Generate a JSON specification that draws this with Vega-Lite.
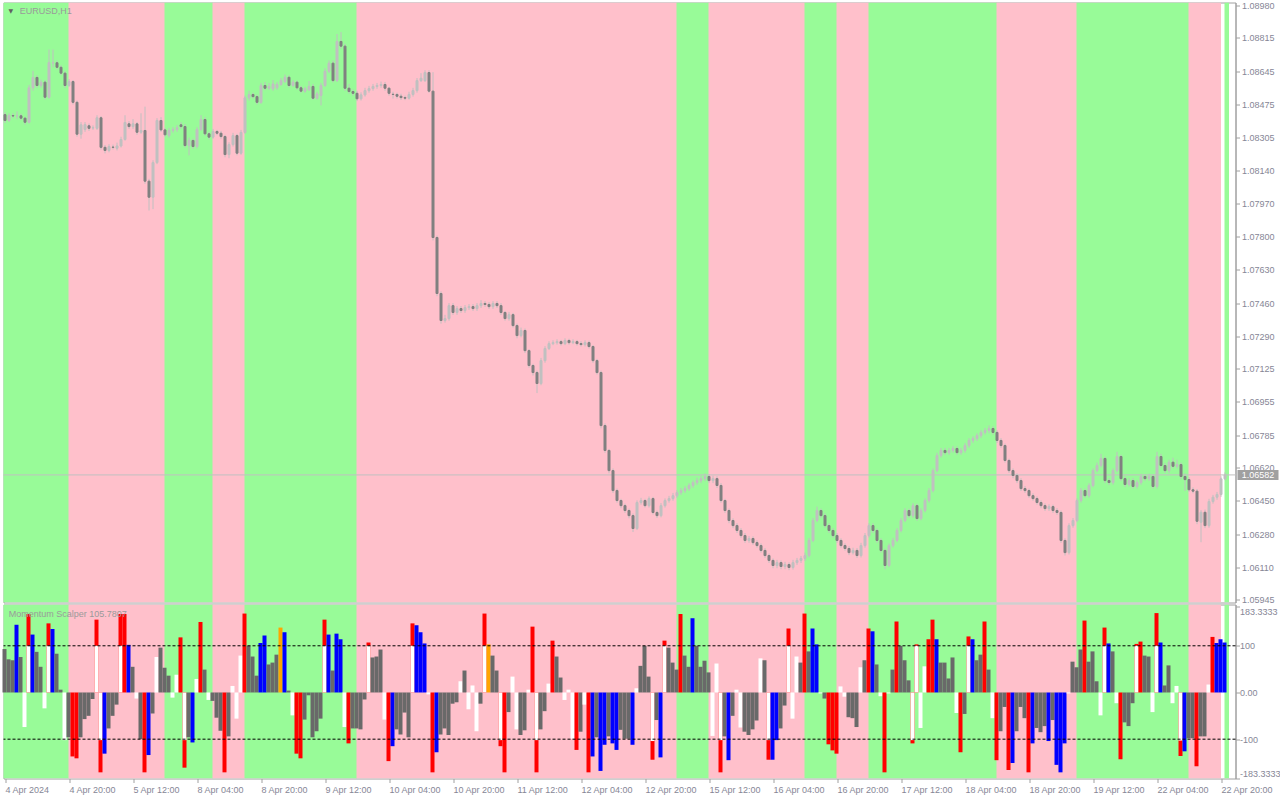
{
"$schema":"https://vega.github.io/schema/vega-lite/v6.json",
"background":"#ffffff",
"padding":{"top":0.5,"left":1.5,"right":0,"bottom":0},
"bounds":"flush",
"spacing":2,
"config":{"view":{"stroke":"#a0a0a0","fill":"#ffffff"},"axis":{"labelFont":"Liberation Sans","labelFontSize":9,"labelColor":"#868696","tickColor":"#a0a0a0","domainColor":"#a0a0a0","grid":false,"labelOverlap":false,"labelFlush":false}},
"datasets":{
"bands":[{"a":-1,"b":16,"t":"up"},{"a":16,"b":40,"t":"down"},{"a":40,"b":52,"t":"up"},{"a":52,"b":60,"t":"down"},{"a":60,"b":88,"t":"up"},{"a":88,"b":168,"t":"down"},{"a":168,"b":176,"t":"up"},{"a":176,"b":200,"t":"down"},{"a":200,"b":208,"t":"up"},{"a":208,"b":216,"t":"down"},{"a":216,"b":248,"t":"up"},{"a":248,"b":268,"t":"down"},{"a":268,"b":296,"t":"up"},{"a":296,"b":304,"t":"down"},{"a":305,"b":306,"t":"up"}],
"candles":[
{"i":0,"o":1.08423,"h":1.08435,"l":1.0838,"c":1.08393},
{"i":1,"o":1.08393,"h":1.0843,"l":1.08385,"c":1.08418},
{"i":2,"o":1.08418,"h":1.0843,"l":1.08405,"c":1.08416},
{"i":3,"o":1.08416,"h":1.0844,"l":1.084,"c":1.08417},
{"i":4,"o":1.08417,"h":1.08428,"l":1.08395,"c":1.08405},
{"i":5,"o":1.08405,"h":1.08412,"l":1.08372,"c":1.08384},
{"i":6,"o":1.08384,"h":1.08575,"l":1.08378,"c":1.0856},
{"i":7,"o":1.0856,"h":1.08647,"l":1.08545,"c":1.08613},
{"i":8,"o":1.08613,"h":1.08625,"l":1.0856,"c":1.08572},
{"i":9,"o":1.08572,"h":1.08602,"l":1.0856,"c":1.08589},
{"i":10,"o":1.08589,"h":1.086,"l":1.085,"c":1.08512},
{"i":11,"o":1.08512,"h":1.08756,"l":1.08505,"c":1.08689},
{"i":12,"o":1.08687,"h":1.08756,"l":1.08665,"c":1.08688},
{"i":13,"o":1.08688,"h":1.087,"l":1.08655,"c":1.08665},
{"i":14,"o":1.08665,"h":1.08675,"l":1.08625,"c":1.08635},
{"i":15,"o":1.08635,"h":1.08645,"l":1.0856,"c":1.08572},
{"i":16,"o":1.08572,"h":1.08605,"l":1.08565,"c":1.08592},
{"i":17,"o":1.08592,"h":1.086,"l":1.08475,"c":1.08486},
{"i":18,"o":1.08486,"h":1.08495,"l":1.0831,"c":1.08323},
{"i":19,"o":1.08323,"h":1.08385,"l":1.083,"c":1.08371},
{"i":20,"o":1.08347,"h":1.08385,"l":1.08335,"c":1.08372},
{"i":21,"o":1.08366,"h":1.08378,"l":1.0834,"c":1.08353},
{"i":22,"o":1.08355,"h":1.08368,"l":1.08345,"c":1.08356},
{"i":23,"o":1.08353,"h":1.0842,"l":1.08345,"c":1.08407},
{"i":24,"o":1.08407,"h":1.08415,"l":1.08245,"c":1.08256},
{"i":25,"o":1.08256,"h":1.08268,"l":1.08225,"c":1.0824},
{"i":26,"o":1.0824,"h":1.08272,"l":1.0823,"c":1.0826},
{"i":27,"o":1.08257,"h":1.0827,"l":1.08245,"c":1.08256},
{"i":28,"o":1.08251,"h":1.0828,"l":1.0824,"c":1.08263},
{"i":29,"o":1.08263,"h":1.0831,"l":1.08255,"c":1.08296},
{"i":30,"o":1.08296,"h":1.0842,"l":1.0829,"c":1.08383},
{"i":31,"o":1.08376,"h":1.0839,"l":1.0835,"c":1.08362},
{"i":32,"o":1.08362,"h":1.084,"l":1.0835,"c":1.08376},
{"i":33,"o":1.08376,"h":1.08385,"l":1.0832,"c":1.08333},
{"i":34,"o":1.08333,"h":1.0843,"l":1.08325,"c":1.08342},
{"i":35,"o":1.08342,"h":1.08464,"l":1.0807,"c":1.08083},
{"i":36,"o":1.08083,"h":1.08095,"l":1.07933,"c":1.08001},
{"i":37,"o":1.08001,"h":1.0819,"l":1.0794,"c":1.08178},
{"i":38,"o":1.08178,"h":1.08405,"l":1.0817,"c":1.08393},
{"i":39,"o":1.08393,"h":1.0841,"l":1.08335,"c":1.08345},
{"i":40,"o":1.08345,"h":1.08355,"l":1.0831,"c":1.0832},
{"i":41,"o":1.08316,"h":1.08355,"l":1.08305,"c":1.08342},
{"i":42,"o":1.08342,"h":1.0836,"l":1.0833,"c":1.08347},
{"i":43,"o":1.08347,"h":1.0837,"l":1.08335,"c":1.08356},
{"i":44,"o":1.08371,"h":1.08385,"l":1.0835,"c":1.08362},
{"i":45,"o":1.08362,"h":1.08375,"l":1.08255,"c":1.08265},
{"i":46,"o":1.08265,"h":1.08305,"l":1.08215,"c":1.08291},
{"i":47,"o":1.08291,"h":1.083,"l":1.08248,"c":1.0826},
{"i":48,"o":1.0826,"h":1.0836,"l":1.0825,"c":1.08347},
{"i":49,"o":1.08347,"h":1.0842,"l":1.0834,"c":1.08398},
{"i":50,"o":1.08398,"h":1.0841,"l":1.08315,"c":1.08325},
{"i":51,"o":1.08325,"h":1.08335,"l":1.08295,"c":1.08308},
{"i":52,"o":1.08308,"h":1.0835,"l":1.083,"c":1.08337},
{"i":53,"o":1.08337,"h":1.08345,"l":1.08318,"c":1.08328},
{"i":54,"o":1.08328,"h":1.0834,"l":1.083,"c":1.08311},
{"i":55,"o":1.08311,"h":1.0832,"l":1.08205,"c":1.08219},
{"i":56,"o":1.08219,"h":1.08282,"l":1.082,"c":1.0827},
{"i":57,"o":1.0827,"h":1.0833,"l":1.0826,"c":1.08316},
{"i":58,"o":1.08316,"h":1.08325,"l":1.08215,"c":1.08226},
{"i":59,"o":1.08226,"h":1.08345,"l":1.08218,"c":1.08332},
{"i":60,"o":1.08332,"h":1.0852,"l":1.08325,"c":1.08509},
{"i":61,"o":1.08509,"h":1.08545,"l":1.08495,"c":1.08526},
{"i":62,"o":1.08526,"h":1.08535,"l":1.08505,"c":1.08515},
{"i":63,"o":1.08515,"h":1.08525,"l":1.08475,"c":1.08486},
{"i":64,"o":1.08486,"h":1.08585,"l":1.08478,"c":1.08572},
{"i":65,"o":1.08572,"h":1.0859,"l":1.08548,"c":1.08558},
{"i":66,"o":1.08558,"h":1.08585,"l":1.0855,"c":1.08567},
{"i":67,"o":1.08555,"h":1.086,"l":1.08545,"c":1.0858},
{"i":68,"o":1.0856,"h":1.0859,"l":1.0855,"c":1.08577},
{"i":69,"o":1.08577,"h":1.0861,"l":1.0857,"c":1.08597},
{"i":70,"o":1.08592,"h":1.08628,"l":1.08585,"c":1.08614},
{"i":71,"o":1.08614,"h":1.08625,"l":1.08562,"c":1.08572},
{"i":72,"o":1.08572,"h":1.086,"l":1.08565,"c":1.08589},
{"i":73,"o":1.08589,"h":1.08598,"l":1.0855,"c":1.0856},
{"i":74,"o":1.0856,"h":1.0857,"l":1.08535,"c":1.08543},
{"i":75,"o":1.08543,"h":1.08565,"l":1.08535,"c":1.08555},
{"i":76,"o":1.0855,"h":1.08595,"l":1.08545,"c":1.08567},
{"i":77,"o":1.08567,"h":1.0858,"l":1.08498,"c":1.08507},
{"i":78,"o":1.08507,"h":1.0854,"l":1.085,"c":1.08529},
{"i":79,"o":1.08521,"h":1.08585,"l":1.0847,"c":1.08572},
{"i":80,"o":1.08572,"h":1.0866,"l":1.08565,"c":1.08645},
{"i":81,"o":1.08645,"h":1.087,"l":1.08635,"c":1.08686},
{"i":82,"o":1.08686,"h":1.087,"l":1.08588,"c":1.08597},
{"i":83,"o":1.08597,"h":1.08835,"l":1.0859,"c":1.08797},
{"i":84,"o":1.08797,"h":1.08845,"l":1.0876,"c":1.08773},
{"i":85,"o":1.08773,"h":1.08785,"l":1.08545,"c":1.08558},
{"i":86,"o":1.08558,"h":1.0858,"l":1.0853,"c":1.08541},
{"i":87,"o":1.08541,"h":1.08552,"l":1.0852,"c":1.08532},
{"i":88,"o":1.08532,"h":1.08545,"l":1.08492,"c":1.08504},
{"i":89,"o":1.08504,"h":1.08537,"l":1.08495,"c":1.08524},
{"i":90,"o":1.08524,"h":1.0856,"l":1.08515,"c":1.08546},
{"i":91,"o":1.08546,"h":1.0857,"l":1.08535,"c":1.08556},
{"i":92,"o":1.08556,"h":1.0858,"l":1.08545,"c":1.08567},
{"i":93,"o":1.08567,"h":1.08585,"l":1.08555,"c":1.08572},
{"i":94,"o":1.08572,"h":1.08592,"l":1.0856,"c":1.08577},
{"i":95,"o":1.08577,"h":1.0859,"l":1.08545,"c":1.08558},
{"i":96,"o":1.08558,"h":1.08565,"l":1.0852,"c":1.08532},
{"i":97,"o":1.08527,"h":1.0854,"l":1.08505,"c":1.08526},
{"i":98,"o":1.08526,"h":1.08535,"l":1.08505,"c":1.08517},
{"i":99,"o":1.08517,"h":1.0853,"l":1.08498,"c":1.0851},
{"i":100,"o":1.0851,"h":1.0852,"l":1.08497,"c":1.08507},
{"i":101,"o":1.08507,"h":1.0854,"l":1.085,"c":1.08526},
{"i":102,"o":1.08526,"h":1.0856,"l":1.08515,"c":1.08546},
{"i":103,"o":1.08546,"h":1.0861,"l":1.08535,"c":1.08597},
{"i":104,"o":1.08597,"h":1.08635,"l":1.0859,"c":1.08609},
{"i":105,"o":1.08597,"h":1.0865,"l":1.0859,"c":1.08638},
{"i":106,"o":1.08638,"h":1.0865,"l":1.08535,"c":1.08543},
{"i":107,"o":1.08543,"h":1.0864,"l":1.0778,"c":1.07795},
{"i":108,"o":1.07795,"h":1.07805,"l":1.07495,"c":1.07509},
{"i":109,"o":1.07509,"h":1.0752,"l":1.07355,"c":1.07371},
{"i":110,"o":1.07371,"h":1.074,"l":1.0736,"c":1.07381},
{"i":111,"o":1.07381,"h":1.0746,"l":1.0737,"c":1.07447},
{"i":112,"o":1.07447,"h":1.0746,"l":1.074,"c":1.07412},
{"i":113,"o":1.07412,"h":1.07445,"l":1.074,"c":1.07432},
{"i":114,"o":1.07432,"h":1.07445,"l":1.0741,"c":1.07422},
{"i":115,"o":1.07422,"h":1.0745,"l":1.0741,"c":1.07437},
{"i":116,"o":1.07437,"h":1.07455,"l":1.07425,"c":1.07442},
{"i":117,"o":1.07442,"h":1.07455,"l":1.0742,"c":1.07432},
{"i":118,"o":1.07432,"h":1.0746,"l":1.0742,"c":1.07447},
{"i":119,"o":1.07447,"h":1.07475,"l":1.07435,"c":1.07458},
{"i":120,"o":1.07458,"h":1.0747,"l":1.0744,"c":1.07453},
{"i":121,"o":1.07453,"h":1.07465,"l":1.0743,"c":1.07442},
{"i":122,"o":1.07442,"h":1.0747,"l":1.0743,"c":1.07458},
{"i":123,"o":1.07458,"h":1.0747,"l":1.07435,"c":1.07447},
{"i":124,"o":1.07447,"h":1.0746,"l":1.074,"c":1.07412},
{"i":125,"o":1.07412,"h":1.0742,"l":1.0737,"c":1.07381},
{"i":126,"o":1.07381,"h":1.07415,"l":1.0737,"c":1.07401},
{"i":127,"o":1.07401,"h":1.0741,"l":1.07335,"c":1.07345},
{"i":128,"o":1.07345,"h":1.07355,"l":1.0728,"c":1.07294},
{"i":129,"o":1.07294,"h":1.07335,"l":1.07285,"c":1.0732},
{"i":130,"o":1.0732,"h":1.0733,"l":1.07205,"c":1.07217},
{"i":131,"o":1.07217,"h":1.07225,"l":1.0713,"c":1.07141},
{"i":132,"o":1.07141,"h":1.0715,"l":1.0709,"c":1.07105},
{"i":133,"o":1.07105,"h":1.07115,"l":1.07,"c":1.07049},
{"i":134,"o":1.07049,"h":1.0718,"l":1.0704,"c":1.07166},
{"i":135,"o":1.07166,"h":1.0724,"l":1.07155,"c":1.07228},
{"i":136,"o":1.07228,"h":1.07265,"l":1.0722,"c":1.07253},
{"i":137,"o":1.07253,"h":1.0727,"l":1.07245,"c":1.07258},
{"i":138,"o":1.07258,"h":1.07275,"l":1.07248,"c":1.07263},
{"i":139,"o":1.07263,"h":1.07272,"l":1.07243,"c":1.07253},
{"i":140,"o":1.07253,"h":1.0728,"l":1.07245,"c":1.07269},
{"i":141,"o":1.07269,"h":1.07278,"l":1.07248,"c":1.07258},
{"i":142,"o":1.07258,"h":1.07275,"l":1.0725,"c":1.07263},
{"i":143,"o":1.07263,"h":1.07272,"l":1.07243,"c":1.07253},
{"i":144,"o":1.07253,"h":1.07265,"l":1.07238,"c":1.07248},
{"i":145,"o":1.07248,"h":1.0727,"l":1.07238,"c":1.07258},
{"i":146,"o":1.07258,"h":1.07268,"l":1.07228,"c":1.07238},
{"i":147,"o":1.07238,"h":1.07245,"l":1.07155,"c":1.07166},
{"i":148,"o":1.07166,"h":1.07175,"l":1.07095,"c":1.07105},
{"i":149,"o":1.07105,"h":1.07115,"l":1.0682,"c":1.06834},
{"i":150,"o":1.06834,"h":1.06845,"l":1.06695,"c":1.06707},
{"i":151,"o":1.06707,"h":1.06715,"l":1.0659,"c":1.06604},
{"i":152,"o":1.06604,"h":1.06615,"l":1.0649,"c":1.06502},
{"i":153,"o":1.06502,"h":1.06512,"l":1.0644,"c":1.06451},
{"i":154,"o":1.06451,"h":1.0646,"l":1.06412,"c":1.06425},
{"i":155,"o":1.06425,"h":1.06435,"l":1.06388,"c":1.064},
{"i":156,"o":1.064,"h":1.0641,"l":1.0636,"c":1.06374},
{"i":157,"o":1.06374,"h":1.06385,"l":1.0629,"c":1.06308},
{"i":158,"o":1.06308,"h":1.06452,"l":1.063,"c":1.06441},
{"i":159,"o":1.06441,"h":1.06465,"l":1.0643,"c":1.06451},
{"i":160,"o":1.06451,"h":1.0646,"l":1.06415,"c":1.06425},
{"i":161,"o":1.06425,"h":1.06472,"l":1.06415,"c":1.06461},
{"i":162,"o":1.06461,"h":1.0647,"l":1.0638,"c":1.0639},
{"i":163,"o":1.0639,"h":1.064,"l":1.06362,"c":1.06374},
{"i":164,"o":1.06374,"h":1.06438,"l":1.06365,"c":1.06425},
{"i":165,"o":1.06425,"h":1.06462,"l":1.06415,"c":1.06451},
{"i":166,"o":1.06451,"h":1.06475,"l":1.0644,"c":1.06461},
{"i":167,"o":1.06461,"h":1.0649,"l":1.0645,"c":1.06476},
{"i":168,"o":1.06476,"h":1.06505,"l":1.06465,"c":1.06492},
{"i":169,"o":1.06492,"h":1.06515,"l":1.0648,"c":1.06502},
{"i":170,"o":1.06502,"h":1.06525,"l":1.0649,"c":1.06512},
{"i":171,"o":1.06512,"h":1.0654,"l":1.065,"c":1.06528},
{"i":172,"o":1.06528,"h":1.06555,"l":1.06515,"c":1.06543},
{"i":173,"o":1.06543,"h":1.06568,"l":1.0653,"c":1.06553},
{"i":174,"o":1.06553,"h":1.06578,"l":1.0654,"c":1.06563},
{"i":175,"o":1.06563,"h":1.0659,"l":1.0655,"c":1.06574},
{"i":176,"o":1.06574,"h":1.06585,"l":1.0654,"c":1.06553},
{"i":177,"o":1.06553,"h":1.06578,"l":1.0654,"c":1.06563},
{"i":178,"o":1.06563,"h":1.06575,"l":1.06515,"c":1.06528},
{"i":179,"o":1.06528,"h":1.0654,"l":1.0644,"c":1.06451},
{"i":180,"o":1.06451,"h":1.0646,"l":1.06388,"c":1.064},
{"i":181,"o":1.064,"h":1.0641,"l":1.06335,"c":1.06349},
{"i":182,"o":1.06349,"h":1.0636,"l":1.0631,"c":1.06323},
{"i":183,"o":1.06323,"h":1.06335,"l":1.06285,"c":1.06298},
{"i":184,"o":1.06298,"h":1.0631,"l":1.0626,"c":1.06272},
{"i":185,"o":1.06272,"h":1.06285,"l":1.06235,"c":1.06247},
{"i":186,"o":1.06247,"h":1.0627,"l":1.06235,"c":1.06257},
{"i":187,"o":1.06257,"h":1.06268,"l":1.06225,"c":1.06236},
{"i":188,"o":1.06236,"h":1.06248,"l":1.0621,"c":1.06221},
{"i":189,"o":1.06221,"h":1.06232,"l":1.06185,"c":1.06196},
{"i":190,"o":1.06196,"h":1.06208,"l":1.06158,"c":1.0617},
{"i":191,"o":1.0617,"h":1.0618,"l":1.06132,"c":1.06145},
{"i":192,"o":1.06145,"h":1.06155,"l":1.06105,"c":1.06119},
{"i":193,"o":1.06119,"h":1.06148,"l":1.06105,"c":1.06134},
{"i":194,"o":1.06134,"h":1.06145,"l":1.061,"c":1.06114},
{"i":195,"o":1.06114,"h":1.06138,"l":1.061,"c":1.06124},
{"i":196,"o":1.06124,"h":1.06135,"l":1.06095,"c":1.06109},
{"i":197,"o":1.06109,"h":1.06148,"l":1.06098,"c":1.06134},
{"i":198,"o":1.06134,"h":1.06158,"l":1.06122,"c":1.06145},
{"i":199,"o":1.06145,"h":1.06168,"l":1.06132,"c":1.06155},
{"i":200,"o":1.06155,"h":1.06185,"l":1.06142,"c":1.0617},
{"i":201,"o":1.0617,"h":1.0626,"l":1.0616,"c":1.06247},
{"i":202,"o":1.06247,"h":1.06362,"l":1.06238,"c":1.06349},
{"i":203,"o":1.06349,"h":1.0642,"l":1.0634,"c":1.064},
{"i":204,"o":1.064,"h":1.0641,"l":1.06362,"c":1.06374},
{"i":205,"o":1.06374,"h":1.06385,"l":1.06312,"c":1.06323},
{"i":206,"o":1.06323,"h":1.06335,"l":1.06285,"c":1.06298},
{"i":207,"o":1.06298,"h":1.0631,"l":1.0626,"c":1.06272},
{"i":208,"o":1.06272,"h":1.06285,"l":1.06235,"c":1.06247},
{"i":209,"o":1.06247,"h":1.06258,"l":1.0621,"c":1.06221},
{"i":210,"o":1.06221,"h":1.06232,"l":1.06195,"c":1.06206},
{"i":211,"o":1.06206,"h":1.06218,"l":1.06172,"c":1.06185},
{"i":212,"o":1.06185,"h":1.0621,"l":1.06175,"c":1.06196},
{"i":213,"o":1.06196,"h":1.06208,"l":1.06158,"c":1.0617},
{"i":214,"o":1.0617,"h":1.06235,"l":1.0616,"c":1.06221},
{"i":215,"o":1.06221,"h":1.06285,"l":1.0621,"c":1.06272},
{"i":216,"o":1.06272,"h":1.06335,"l":1.06262,"c":1.06323},
{"i":217,"o":1.06323,"h":1.06335,"l":1.06285,"c":1.06298},
{"i":218,"o":1.06298,"h":1.06308,"l":1.06235,"c":1.06247},
{"i":219,"o":1.06247,"h":1.06258,"l":1.06185,"c":1.06196},
{"i":220,"o":1.06196,"h":1.06205,"l":1.061,"c":1.06119},
{"i":221,"o":1.06119,"h":1.06232,"l":1.0611,"c":1.06221},
{"i":222,"o":1.06221,"h":1.0626,"l":1.0621,"c":1.06247},
{"i":223,"o":1.06247,"h":1.0631,"l":1.06238,"c":1.06298},
{"i":224,"o":1.06298,"h":1.06362,"l":1.06288,"c":1.06349},
{"i":225,"o":1.06349,"h":1.06412,"l":1.0634,"c":1.064},
{"i":226,"o":1.064,"h":1.0641,"l":1.06362,"c":1.06374},
{"i":227,"o":1.06374,"h":1.06438,"l":1.06362,"c":1.06425},
{"i":228,"o":1.06425,"h":1.06435,"l":1.06348,"c":1.06359},
{"i":229,"o":1.06359,"h":1.06412,"l":1.0635,"c":1.064},
{"i":230,"o":1.064,"h":1.06462,"l":1.0639,"c":1.06451},
{"i":231,"o":1.06451,"h":1.06515,"l":1.0644,"c":1.06502},
{"i":232,"o":1.06502,"h":1.06615,"l":1.06492,"c":1.06604},
{"i":233,"o":1.06604,"h":1.06695,"l":1.06595,"c":1.06681},
{"i":234,"o":1.06681,"h":1.0672,"l":1.0667,"c":1.06707},
{"i":235,"o":1.06707,"h":1.0672,"l":1.06685,"c":1.06696},
{"i":236,"o":1.06696,"h":1.0672,"l":1.06685,"c":1.06707},
{"i":237,"o":1.06707,"h":1.0673,"l":1.06695,"c":1.06717},
{"i":238,"o":1.06717,"h":1.06728,"l":1.06685,"c":1.06696},
{"i":239,"o":1.06696,"h":1.0672,"l":1.06685,"c":1.06707},
{"i":240,"o":1.06707,"h":1.06745,"l":1.06695,"c":1.06732},
{"i":241,"o":1.06732,"h":1.0677,"l":1.0672,"c":1.06758},
{"i":242,"o":1.06758,"h":1.0678,"l":1.06745,"c":1.06768},
{"i":243,"o":1.06768,"h":1.06795,"l":1.06755,"c":1.06783},
{"i":244,"o":1.06783,"h":1.06812,"l":1.0677,"c":1.06799},
{"i":245,"o":1.06799,"h":1.06822,"l":1.06788,"c":1.06809},
{"i":246,"o":1.06809,"h":1.06835,"l":1.06795,"c":1.06819},
{"i":247,"o":1.06819,"h":1.0683,"l":1.06788,"c":1.06799},
{"i":248,"o":1.06799,"h":1.0681,"l":1.06745,"c":1.06758},
{"i":249,"o":1.06758,"h":1.0677,"l":1.0672,"c":1.06732},
{"i":250,"o":1.06732,"h":1.06742,"l":1.06645,"c":1.06656},
{"i":251,"o":1.06656,"h":1.06665,"l":1.06592,"c":1.06604},
{"i":252,"o":1.06604,"h":1.06615,"l":1.06565,"c":1.06579},
{"i":253,"o":1.06579,"h":1.0659,"l":1.0654,"c":1.06553},
{"i":254,"o":1.06553,"h":1.06565,"l":1.065,"c":1.06512},
{"i":255,"o":1.06512,"h":1.06525,"l":1.0649,"c":1.06502},
{"i":256,"o":1.06502,"h":1.06512,"l":1.06465,"c":1.06476},
{"i":257,"o":1.06476,"h":1.06488,"l":1.0645,"c":1.06461},
{"i":258,"o":1.06461,"h":1.06472,"l":1.0643,"c":1.06441},
{"i":259,"o":1.06441,"h":1.06452,"l":1.06412,"c":1.06425},
{"i":260,"o":1.06425,"h":1.06436,"l":1.06398,"c":1.0641},
{"i":261,"o":1.0641,"h":1.06432,"l":1.06398,"c":1.0642},
{"i":262,"o":1.0642,"h":1.0643,"l":1.06388,"c":1.064},
{"i":263,"o":1.064,"h":1.06412,"l":1.06378,"c":1.0639},
{"i":264,"o":1.0639,"h":1.064,"l":1.06235,"c":1.06247},
{"i":265,"o":1.06247,"h":1.06258,"l":1.0617,"c":1.06185},
{"i":266,"o":1.06185,"h":1.06335,"l":1.06175,"c":1.06323},
{"i":267,"o":1.06323,"h":1.06362,"l":1.06312,"c":1.06349},
{"i":268,"o":1.06349,"h":1.06462,"l":1.0634,"c":1.06451},
{"i":269,"o":1.06451,"h":1.06515,"l":1.0644,"c":1.06502},
{"i":270,"o":1.06502,"h":1.06512,"l":1.06465,"c":1.06476},
{"i":271,"o":1.06476,"h":1.0654,"l":1.06465,"c":1.06528},
{"i":272,"o":1.06528,"h":1.06615,"l":1.06518,"c":1.06604},
{"i":273,"o":1.06604,"h":1.06645,"l":1.06595,"c":1.0663},
{"i":274,"o":1.0663,"h":1.0669,"l":1.0662,"c":1.06666},
{"i":275,"o":1.06666,"h":1.06675,"l":1.0654,"c":1.06553},
{"i":276,"o":1.06553,"h":1.06565,"l":1.0653,"c":1.06543},
{"i":277,"o":1.06543,"h":1.06615,"l":1.06532,"c":1.06604},
{"i":278,"o":1.06604,"h":1.067,"l":1.06595,"c":1.06676},
{"i":279,"o":1.06676,"h":1.06685,"l":1.0655,"c":1.06563},
{"i":280,"o":1.06563,"h":1.06575,"l":1.0652,"c":1.06533},
{"i":281,"o":1.06533,"h":1.06565,"l":1.06522,"c":1.06553},
{"i":282,"o":1.06553,"h":1.06565,"l":1.06512,"c":1.06523},
{"i":283,"o":1.06523,"h":1.06555,"l":1.06512,"c":1.06543},
{"i":284,"o":1.06543,"h":1.06588,"l":1.06532,"c":1.06574},
{"i":285,"o":1.06574,"h":1.06585,"l":1.06552,"c":1.06563},
{"i":286,"o":1.06563,"h":1.06588,"l":1.06552,"c":1.06574},
{"i":287,"o":1.06574,"h":1.06585,"l":1.06512,"c":1.06523},
{"i":288,"o":1.06523,"h":1.067,"l":1.06512,"c":1.06676},
{"i":289,"o":1.06676,"h":1.0669,"l":1.0662,"c":1.0663},
{"i":290,"o":1.0663,"h":1.06642,"l":1.06592,"c":1.06604},
{"i":291,"o":1.06604,"h":1.0666,"l":1.0659,"c":1.06647},
{"i":292,"o":1.06647,"h":1.0667,"l":1.06615,"c":1.06626},
{"i":293,"o":1.06626,"h":1.0666,"l":1.06615,"c":1.06635},
{"i":294,"o":1.06635,"h":1.06645,"l":1.0656,"c":1.06574},
{"i":295,"o":1.06574,"h":1.0659,"l":1.065,"c":1.06558},
{"i":296,"o":1.06558,"h":1.0657,"l":1.06495,"c":1.06506},
{"i":297,"o":1.06506,"h":1.06518,"l":1.06488,"c":1.06499},
{"i":298,"o":1.06499,"h":1.0651,"l":1.0633,"c":1.06345},
{"i":299,"o":1.0634,"h":1.06402,"l":1.06238,"c":1.06391},
{"i":300,"o":1.06391,"h":1.06405,"l":1.0631,"c":1.06323},
{"i":301,"o":1.06323,"h":1.0646,"l":1.06312,"c":1.06446},
{"i":302,"o":1.06446,"h":1.0648,"l":1.06435,"c":1.06468},
{"i":303,"o":1.06468,"h":1.06495,"l":1.06455,"c":1.06482},
{"i":304,"o":1.06482,"h":1.06575,"l":1.0647,"c":1.06562},
{"i":305,"o":1.06562,"h":1.06595,"l":1.06555,"c":1.06582}
],
"hist":[
{"i":0,"v":93,"k":"n"},{"i":1,"v":71,"k":"n"},{"i":2,"v":69,"k":"n"},{"i":3,"v":145,"k":"b"},{"i":4,"v":76,"k":"n"},{"i":5,"v":-74,"k":"w"},{"i":6,"v":168,"k":"r"},{"i":6,"v":100,"k":"w"},{"i":7,"v":124,"k":"b"},{"i":8,"v":87,"k":"n"},{"i":9,"v":55,"k":"n"},{"i":10,"v":-34,"k":"w"},{"i":11,"v":148,"k":"r"},{"i":11,"v":100,"k":"w"},{"i":12,"v":136,"k":"b"},{"i":13,"v":83,"k":"n"},{"i":14,"v":6,"k":"n"},{"i":15,"v":-102,"k":"w"},{"i":16,"v":-96,"k":"n"},{"i":17,"v":-137,"k":"r"},{"i":18,"v":-141,"k":"r"},{"i":19,"v":-96,"k":"n"},
{"i":20,"v":-57,"k":"n"},{"i":21,"v":-50,"k":"n"},{"i":22,"v":-14,"k":"n"},{"i":23,"v":156,"k":"r"},{"i":23,"v":100,"k":"w"},{"i":24,"v":-171,"k":"r"},{"i":24,"v":-102,"k":"w"},{"i":25,"v":-131,"k":"b"},{"i":26,"v":-77,"k":"n"},{"i":27,"v":-50,"k":"n"},{"i":28,"v":-26,"k":"n"},{"i":29,"v":168,"k":"r"},{"i":29,"v":100,"k":"w"},{"i":30,"v":168,"k":"r"},{"i":31,"v":102,"k":"b"},{"i":32,"v":55,"k":"n"},{"i":33,"v":-13,"k":"w"},{"i":34,"v":-100,"k":"n"},{"i":35,"v":-171,"k":"r"},{"i":36,"v":-134,"k":"b"},{"i":37,"v":-45,"k":"n"},{"i":38,"v":76,"k":"w"},{"i":39,"v":96,"k":"n"},
{"i":40,"v":53,"k":"n"},{"i":41,"v":36,"k":"n"},{"i":42,"v":-11,"k":"w"},{"i":43,"v":38,"k":"w"},{"i":44,"v":118,"k":"r"},{"i":45,"v":-161,"k":"r"},{"i":45,"v":-102,"k":"w"},{"i":46,"v":-96,"k":"n"},{"i":47,"v":-107,"k":"b"},{"i":48,"v":29,"k":"w"},{"i":49,"v":151,"k":"r"},{"i":50,"v":49,"k":"n"},{"i":51,"v":-16,"k":"w"},{"i":52,"v":-18,"k":"n"},{"i":53,"v":-54,"k":"n"},{"i":54,"v":-82,"k":"n"},{"i":55,"v":-171,"k":"r"},{"i":56,"v":-94,"k":"n"},{"i":57,"v":14,"k":"w"},{"i":58,"v":-56,"k":"w"},{"i":59,"v":79,"k":"w"},
{"i":60,"v":169,"k":"r"},{"i":61,"v":100,"k":"n"},{"i":62,"v":77,"k":"n"},{"i":63,"v":36,"k":"n"},{"i":64,"v":106,"k":"b"},{"i":65,"v":122,"k":"b"},{"i":66,"v":60,"k":"n"},{"i":67,"v":64,"k":"n"},{"i":68,"v":81,"k":"n"},{"i":69,"v":139,"k":"o"},{"i":70,"v":129,"k":"b"},{"i":71,"v":4,"k":"n"},{"i":72,"v":-49,"k":"w"},{"i":73,"v":-131,"k":"r"},{"i":74,"v":-141,"k":"r"},{"i":75,"v":-58,"k":"n"},{"i":76,"v":-6,"k":"n"},{"i":77,"v":-96,"k":"n"},{"i":78,"v":-83,"k":"n"},{"i":79,"v":-56,"k":"n"},
{"i":80,"v":156,"k":"r"},{"i":80,"v":100,"k":"w"},{"i":81,"v":124,"k":"b"},{"i":82,"v":47,"k":"n"},{"i":83,"v":126,"k":"b"},{"i":84,"v":114,"k":"b"},{"i":85,"v":-74,"k":"w"},{"i":86,"v":-109,"k":"r"},{"i":87,"v":-77,"k":"n"},{"i":88,"v":-77,"k":"n"},{"i":89,"v":-79,"k":"n"},{"i":90,"v":-15,"k":"n"},{"i":91,"v":107,"k":"r"},{"i":91,"v":100,"k":"w"},{"i":92,"v":75,"k":"n"},{"i":93,"v":77,"k":"n"},{"i":94,"v":92,"k":"n"},{"i":95,"v":-58,"k":"w"},{"i":96,"v":-147,"k":"r"},{"i":97,"v":-115,"k":"b"},{"i":98,"v":-79,"k":"n"},{"i":99,"v":-90,"k":"n"},
{"i":100,"v":-43,"k":"n"},{"i":101,"v":-96,"k":"n"},{"i":102,"v":148,"k":"r"},{"i":102,"v":100,"k":"w"},{"i":103,"v":144,"k":"b"},{"i":104,"v":129,"k":"b"},{"i":105,"v":105,"k":"b"},{"i":106,"v":-4,"k":"w"},{"i":107,"v":-171,"k":"r"},{"i":108,"v":-128,"k":"b"},{"i":109,"v":-90,"k":"n"},{"i":110,"v":-77,"k":"n"},{"i":111,"v":-91,"k":"n"},{"i":112,"v":-24,"k":"n"},{"i":113,"v":-21,"k":"n"},{"i":114,"v":24,"k":"w"},{"i":115,"v":47,"k":"n"},{"i":116,"v":-36,"k":"w"},{"i":117,"v":15,"k":"w"},{"i":118,"v":-83,"k":"w"},{"i":119,"v":-24,"k":"n"},
{"i":120,"v":169,"k":"r"},{"i":120,"v":100,"k":"w"},{"i":121,"v":103,"k":"o"},{"i":122,"v":79,"k":"n"},{"i":123,"v":47,"k":"n"},{"i":124,"v":-115,"k":"r"},{"i":124,"v":-102,"k":"w"},{"i":125,"v":-171,"k":"r"},{"i":126,"v":-42,"k":"n"},{"i":127,"v":34,"k":"w"},{"i":128,"v":-79,"k":"w"},{"i":129,"v":-91,"k":"n"},{"i":130,"v":-81,"k":"n"},{"i":131,"v":6,"k":"w"},{"i":132,"v":141,"k":"r"},{"i":133,"v":-171,"k":"r"},{"i":133,"v":-102,"k":"w"},{"i":134,"v":-79,"k":"n"},{"i":135,"v":-40,"k":"n"},{"i":136,"v":19,"k":"w"},{"i":137,"v":111,"k":"r"},{"i":138,"v":77,"k":"n"},{"i":139,"v":32,"k":"n"},
{"i":140,"v":-16,"k":"w"},{"i":141,"v":6,"k":"w"},{"i":142,"v":-99,"k":"w"},{"i":143,"v":-123,"k":"r"},{"i":144,"v":-84,"k":"n"},{"i":145,"v":-26,"k":"w"},{"i":146,"v":-171,"k":"r"},{"i":147,"v":-137,"k":"b"},{"i":148,"v":-96,"k":"n"},{"i":149,"v":-168,"k":"b"},{"i":150,"v":-112,"k":"b"},{"i":151,"v":-94,"k":"n"},{"i":152,"v":-109,"k":"b"},{"i":153,"v":-123,"k":"b"},{"i":154,"v":-80,"k":"n"},{"i":155,"v":-99,"k":"n"},{"i":156,"v":-99,"k":"n"},{"i":157,"v":-112,"k":"b"},{"i":158,"v":9,"k":"w"},{"i":159,"v":57,"k":"n"},
{"i":160,"v":100,"k":"n"},{"i":161,"v":34,"k":"n"},{"i":162,"v":-144,"k":"r"},{"i":162,"v":-104,"k":"w"},{"i":163,"v":-59,"k":"n"},{"i":164,"v":-139,"k":"b"},{"i":165,"v":111,"k":"r"},{"i":165,"v":100,"k":"w"},{"i":166,"v":96,"k":"n"},{"i":167,"v":64,"k":"n"},{"i":168,"v":49,"k":"n"},{"i":169,"v":168,"k":"r"},{"i":170,"v":79,"k":"n"},{"i":171,"v":55,"k":"n"},{"i":172,"v":159,"k":"b"},{"i":173,"v":100,"k":"n"},{"i":174,"v":55,"k":"n"},{"i":175,"v":68,"k":"n"},{"i":176,"v":43,"k":"n"},{"i":177,"v":-93,"k":"w"},{"i":178,"v":62,"k":"w"},{"i":179,"v":-171,"k":"r"},{"i":179,"v":-102,"k":"w"},
{"i":180,"v":-94,"k":"n"},{"i":181,"v":-145,"k":"b"},{"i":182,"v":-50,"k":"n"},{"i":183,"v":6,"k":"w"},{"i":184,"v":-75,"k":"w"},{"i":185,"v":-84,"k":"n"},{"i":186,"v":-91,"k":"n"},{"i":187,"v":-79,"k":"n"},{"i":188,"v":-60,"k":"n"},{"i":189,"v":73,"k":"w"},{"i":190,"v":69,"k":"n"},{"i":191,"v":-144,"k":"r"},{"i":191,"v":-102,"k":"w"},{"i":192,"v":-144,"k":"b"},{"i":193,"v":-102,"k":"b"},{"i":194,"v":-77,"k":"n"},{"i":195,"v":-28,"k":"n"},{"i":196,"v":137,"k":"r"},{"i":196,"v":100,"k":"w"},{"i":197,"v":-56,"k":"w"},{"i":198,"v":77,"k":"w"},{"i":199,"v":64,"k":"n"},
{"i":200,"v":169,"k":"r"},{"i":201,"v":88,"k":"n"},{"i":202,"v":137,"k":"b"},{"i":203,"v":103,"k":"b"},{"i":204,"v":-2,"k":"w"},{"i":205,"v":-13,"k":"n"},{"i":206,"v":-111,"k":"r"},{"i":207,"v":-124,"k":"r"},{"i":208,"v":-131,"k":"r"},{"i":209,"v":13,"k":"w"},{"i":210,"v":-9,"k":"w"},{"i":211,"v":-53,"k":"n"},{"i":212,"v":-55,"k":"n"},{"i":213,"v":-74,"k":"n"},{"i":214,"v":54,"k":"w"},{"i":215,"v":69,"k":"n"},{"i":216,"v":137,"k":"r"},{"i":217,"v":131,"k":"b"},{"i":218,"v":60,"k":"n"},{"i":219,"v":-8,"k":"w"},
{"i":220,"v":-171,"k":"r"},{"i":221,"v":-2,"k":"w"},{"i":222,"v":49,"k":"n"},{"i":223,"v":152,"k":"r"},{"i":224,"v":100,"k":"n"},{"i":225,"v":69,"k":"n"},{"i":226,"v":26,"k":"n"},{"i":227,"v":-109,"k":"r"},{"i":227,"v":-102,"k":"w"},{"i":228,"v":103,"k":"r"},{"i":228,"v":100,"k":"w"},{"i":229,"v":-76,"k":"w"},{"i":230,"v":56,"k":"w"},{"i":231,"v":114,"k":"r"},{"i":232,"v":156,"k":"r"},{"i":233,"v":114,"k":"b"},{"i":234,"v":64,"k":"n"},{"i":235,"v":64,"k":"n"},{"i":236,"v":30,"k":"n"},{"i":237,"v":75,"k":"n"},{"i":238,"v":-44,"k":"w"},{"i":239,"v":-128,"k":"r"},
{"i":240,"v":-46,"k":"n"},{"i":241,"v":120,"k":"r"},{"i":241,"v":100,"k":"w"},{"i":242,"v":114,"k":"b"},{"i":243,"v":69,"k":"n"},{"i":244,"v":81,"k":"n"},{"i":245,"v":152,"k":"r"},{"i":246,"v":49,"k":"n"},{"i":247,"v":-55,"k":"w"},{"i":248,"v":-145,"k":"r"},{"i":249,"v":-83,"k":"n"},{"i":250,"v":-31,"k":"n"},{"i":251,"v":-166,"k":"r"},{"i":252,"v":-151,"k":"b"},{"i":253,"v":-83,"k":"n"},{"i":254,"v":-31,"k":"n"},{"i":255,"v":-55,"k":"n"},{"i":256,"v":-171,"k":"r"},{"i":257,"v":-109,"k":"b"},{"i":258,"v":-76,"k":"n"},{"i":259,"v":-85,"k":"n"},
{"i":260,"v":-72,"k":"n"},{"i":261,"v":-104,"k":"b"},{"i":262,"v":-59,"k":"n"},{"i":263,"v":-155,"k":"b"},{"i":264,"v":-171,"k":"b"},{"i":265,"v":-109,"k":"b"},{"i":266,"v":-2,"k":"w"},{"i":267,"v":66,"k":"n"},{"i":268,"v":54,"k":"n"},{"i":269,"v":92,"k":"n"},{"i":270,"v":154,"k":"r"},{"i":271,"v":66,"k":"n"},{"i":272,"v":88,"k":"n"},{"i":273,"v":24,"k":"n"},{"i":274,"v":-49,"k":"w"},{"i":275,"v":139,"k":"r"},{"i":275,"v":100,"k":"w"},{"i":276,"v":105,"k":"b"},{"i":277,"v":88,"k":"n"},{"i":278,"v":-23,"k":"w"},{"i":279,"v":-143,"k":"r"},
{"i":280,"v":-64,"k":"n"},{"i":281,"v":-72,"k":"n"},{"i":282,"v":-23,"k":"n"},{"i":283,"v":104,"k":"r"},{"i":283,"v":100,"k":"w"},{"i":284,"v":109,"k":"r"},{"i":285,"v":79,"k":"n"},{"i":286,"v":77,"k":"n"},{"i":287,"v":-42,"k":"w"},{"i":288,"v":170,"k":"r"},{"i":288,"v":100,"k":"w"},{"i":289,"v":107,"k":"b"},{"i":290,"v":15,"k":"n"},{"i":291,"v":58,"k":"n"},{"i":292,"v":-23,"k":"w"},{"i":293,"v":14,"k":"w"},{"i":294,"v":-136,"k":"r"},{"i":294,"v":-103,"k":"w"},{"i":295,"v":-126,"k":"b"},{"i":296,"v":-98,"k":"n"},{"i":297,"v":-98,"k":"n"},{"i":298,"v":-158,"k":"r"},{"i":299,"v":-94,"k":"n"},
{"i":300,"v":-94,"k":"n"},{"i":301,"v":17,"k":"w"},{"i":302,"v":119,"k":"r"},{"i":303,"v":106,"k":"b"},{"i":304,"v":114,"k":"b"},{"i":305,"v":107,"k":"b"}
]
},
"vconcat":[
{
"width":1232,"height":600,
"layer":[
{"data":{"name":"bands"},"mark":{"type":"rect","clip":true,"xOffset":-0.5},
 "encoding":{"x":{"field":"a","type":"quantitative","scale":{"domain":[-0.375,307.625],"nice":false,"zero":false,"padding":0},"axis":null},"x2":{"field":"b"},
 "color":{"field":"t","type":"nominal","scale":{"domain":["up","down"],"range":["#98fb98","#ffc0cb"]},"legend":null}}},
{"data":{"values":[{"p":1.06582}]},"mark":{"type":"rule","color":"#c0c0c0","strokeWidth":1},
 "encoding":{"y":{"field":"p","type":"quantitative","scale":{"domain":[1.0593,1.08996],"nice":false,"zero":false,"padding":0},"title":null,
   "axis":{"orient":"right","values":[1.0898,1.08815,1.08645,1.08475,1.08305,1.0814,1.0797,1.078,1.0763,1.0746,1.0729,1.07125,1.06955,1.06785,1.0662,1.0645,1.0628,1.0611,1.05945],"tickCount":40,"format":".5f","tickSize":4,"labelPadding":2,"labelBaseline":"middle","labelOverlap":false,"labelFlush":false,"title":null}}}},
{"data":{"name":"candles"},"mark":{"type":"rule","color":"#c0c0c0","strokeWidth":1},
 "encoding":{"x":{"field":"i","type":"quantitative","scale":{"domain":[-0.375,307.625],"nice":false,"zero":false,"padding":0},"axis":null},
 "y":{"field":"l","type":"quantitative","scale":{"domain":[1.0593,1.08996],"nice":false,"zero":false,"padding":0},"title":null},
 "y2":{"field":"h"}}},
{"data":{"name":"candles"},"mark":{"type":"bar","width":2,"strokeWidth":1},
 "encoding":{"x":{"field":"i","type":"quantitative","scale":{"domain":[-0.375,307.625],"nice":false,"zero":false,"padding":0},"axis":null},
 "y":{"field":"o","type":"quantitative","scale":{"domain":[1.0593,1.08996],"nice":false,"zero":false,"padding":0},"title":null,"stack":null},
 "y2":{"field":"c"},
 "fill":{"condition":{"test":"datum.c >= datum.o","value":"#c0c0c0"},"value":"#808080"},
 "stroke":{"condition":{"test":"datum.c >= datum.o","value":"#c0c0c0"},"value":"#808080"}}},
{"data":{"values":[{"t":"EURUSD,H1","x":3.7,"y":1.08951}]},"mark":{"type":"text","align":"left","baseline":"middle","font":"Liberation Sans","fontSize":9,"color":"#9a9a9a"},
 "encoding":{"x":{"field":"x","type":"quantitative","scale":{"domain":[-0.375,307.625],"nice":false,"zero":false,"padding":0},"axis":null},"y":{"field":"y","type":"quantitative","scale":{"domain":[1.0593,1.08996],"nice":false,"zero":false,"padding":0},"title":null},"text":{"field":"t"}}},
{"data":{"values":[{"t":"▼","x":1.45,"y":1.08951}]},"mark":{"type":"text","align":"center","baseline":"middle","font":"DejaVu Sans","fontSize":6,"color":"#606060"},
 "encoding":{"x":{"field":"x","type":"quantitative","scale":{"domain":[-0.375,307.625],"nice":false,"zero":false,"padding":0},"axis":null},"y":{"field":"y","type":"quantitative","scale":{"domain":[1.0593,1.08996],"nice":false,"zero":false,"padding":0},"title":null},"text":{"field":"t"}}},
{"data":{"values":[{"x0":308.125,"x1":318.375,"y0":1.06607,"y1":1.06556}]},"mark":{"type":"rect","color":"#a0a0a0","clip":false},
 "encoding":{"x":{"field":"x0","type":"quantitative","scale":{"domain":[-0.375,307.625],"nice":false,"zero":false,"padding":0},"axis":null},"x2":{"field":"x1"},"y":{"field":"y0","type":"quantitative","scale":{"domain":[1.0593,1.08996],"nice":false,"zero":false,"padding":0},"title":null},"y2":{"field":"y1"}}},
{"data":{"values":[{"p":1.06582,"x":313.25}]},"mark":{"type":"text","align":"center","baseline":"middle","font":"Liberation Sans","fontSize":9,"color":"#ffffff"},
 "encoding":{"x":{"field":"x","type":"quantitative","scale":{"domain":[-0.375,307.625],"nice":false,"zero":false,"padding":0},"axis":null},"y":{"field":"p","type":"quantitative","scale":{"domain":[1.0593,1.08996],"nice":false,"zero":false,"padding":0},"title":null},"text":{"field":"p","type":"quantitative","format":".5f"}}}
]
},
{
"width":1232,"height":174,
"layer":[
{"data":{"name":"bands"},"mark":{"type":"rect","clip":true,"xOffset":-0.5},
 "encoding":{"x":{"field":"a","type":"quantitative","scale":{"domain":[-0.375,307.625],"nice":false,"zero":false,"padding":0},"title":null},"x2":{"field":"b"},
 "color":{"field":"t","type":"nominal","scale":{"domain":["up","down"],"range":["#98fb98","#ffc0cb"]},"legend":null}}},
{"data":{"name":"hist"},"mark":{"type":"bar","width":4,"xOffset":-0.5},
 "encoding":{"x":{"field":"i","type":"quantitative","scale":{"domain":[-0.375,307.625],"nice":false,"zero":false,"padding":0},"title":null,
   "axis":{"orient":"bottom","values":[0,16,32,48,64,80,96,112,128,144,160,176,192,208,224,240,256,272,288,304],"tickCount":40,"labelExpr":"['4 Apr 2024','4 Apr 20:00','5 Apr 12:00','8 Apr 04:00','8 Apr 20:00','9 Apr 12:00','10 Apr 04:00','10 Apr 20:00','11 Apr 12:00','12 Apr 04:00','12 Apr 20:00','15 Apr 12:00','16 Apr 04:00','16 Apr 20:00','17 Apr 12:00','18 Apr 04:00','18 Apr 20:00','19 Apr 12:00','22 Apr 04:00','22 Apr 20:00'][round(datum.value/16)]","labelAlign":"left","labelBaseline":"top","labelPadding":3,"tickSize":4,"domain":false,"labelFlush":false,"labelOverlap":false,"title":null}},
 "y":{"field":"v","type":"quantitative","scale":{"domain":[-184.2,188.4],"nice":false,"zero":false,"padding":0},"stack":null,"title":null,
   "axis":{"orient":"right","values":[183.3333,100,0,-100,-183.3333],"tickCount":10,"labelExpr":"datum.value == 0 ? '0.00' : toString(datum.value)","tickSize":4,"labelPadding":0,"labelOverlap":false,"labelFlush":false,
     "labelBaseline":{"condition":{"test":"datum.value < -150","value":"bottom"},"value":"middle"},
     "labelOffset":{"condition":{"test":"datum.value > 150","value":5},"value":0},"title":null}},
 "y2":{"datum":0},
 "fill":{"field":"k","type":"nominal","scale":{"domain":["n","w","r","b","o"],"range":["#696969","#ffffff","#ff0000","#0000ff","#ffa500"]},"legend":null}}},
{"data":{"values":[{"v":100},{"v":-100}]},"mark":{"type":"rule","color":"#000000","strokeWidth":1,"strokeDash":[3,2]},
 "encoding":{"y":{"field":"v","type":"quantitative","scale":{"domain":[-184.2,188.4],"nice":false,"zero":false,"padding":0},"title":null}}},
{"data":{"values":[{"t":"Momentum Scalper 105.7807","x":0.95,"y":167}]},"mark":{"type":"text","align":"left","baseline":"middle","font":"Liberation Sans","fontSize":9,"color":"#9a9a9a"},
 "encoding":{"x":{"field":"x","type":"quantitative","scale":{"domain":[-0.375,307.625],"nice":false,"zero":false,"padding":0},"title":null},"y":{"field":"y","type":"quantitative","scale":{"domain":[-184.2,188.4],"nice":false,"zero":false,"padding":0},"title":null},"text":{"field":"t"}}}
]
}
]
}
